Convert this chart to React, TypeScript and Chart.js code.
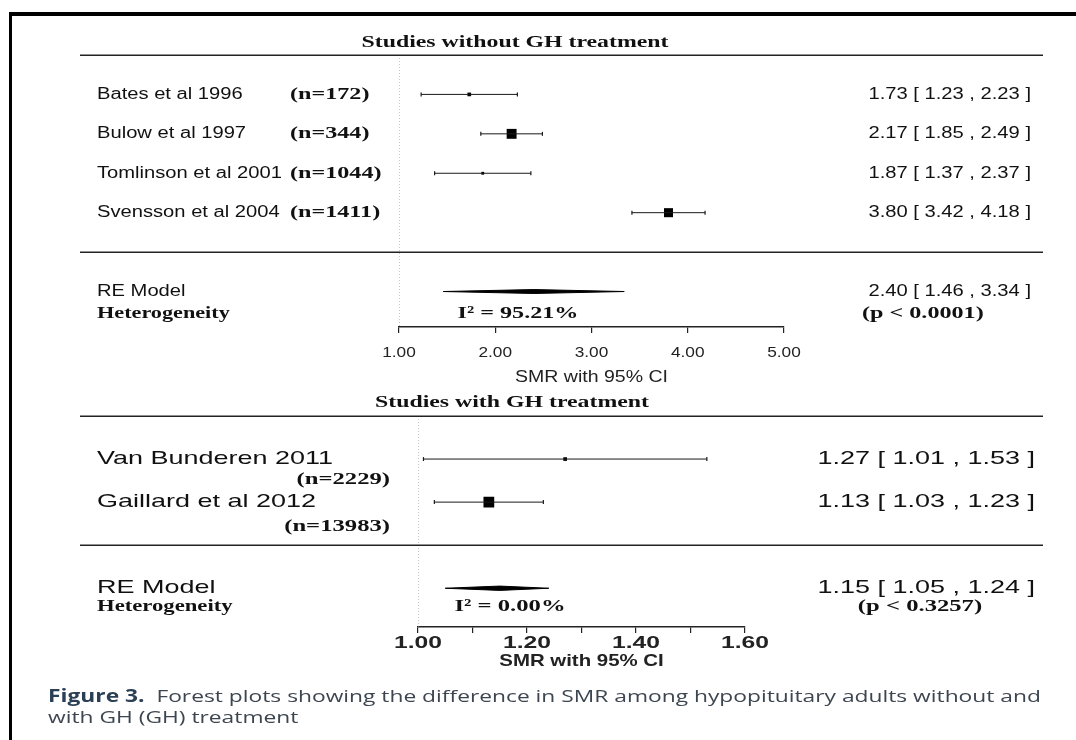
import React, { useEffect, useRef } from 'react';
import { Chart, registerables } from 'chart.js';
Chart.register(...registerables);

// ---------- data: studies without GH treatment ----------
const titleTop = 'Studies without GH treatment';
const studiesTop = ['Bates et al 1996', 'Bulow et al 1997', 'Tomlinson et al 2001', 'Svensson et al 2004'];
const sizesTop = ['(n=172)', '(n=344)', '(n=1044)', '(n=1411)'];
const smrTop = [1.73, 2.17, 1.87, 3.8];
const lowerTop = [1.23, 1.85, 1.37, 3.42];
const upperTop = [2.23, 2.49, 2.37, 4.18];
const reTop = [2.4, 1.46, 3.34]; // estimate, lower, upper
const i2Top = 'I\u00B2 = 95.21%';
const pTop = '(p < 0.0001)';
const ticksTop = [1, 2, 3, 4, 5];
const tickLabelsTop = ['1.00', '2.00', '3.00', '4.00', '5.00'];

// ---------- data: studies with GH treatment ----------
const titleBottom = 'Studies with GH treatment';
const studiesBottom = ['Van Bunderen 2011', 'Gaillard et al 2012'];
const sizesBottom = ['(n=2229)', '(n=13983)'];
const smrBottom = [1.27, 1.13];
const lowerBottom = [1.01, 1.03];
const upperBottom = [1.53, 1.23];
const reBottom = [1.15, 1.05, 1.24];
const i2Bottom = 'I\u00B2 = 0.00%';
const pBottom = '(p < 0.3257)';
const ticksBottom = [1.0, 1.1, 1.2, 1.3, 1.4, 1.5, 1.6];
const tickLabelsBottom = ['1.00', '', '1.20', '', '1.40', '', '1.60'];

const reLabel = 'RE Model';
const hetLabel = 'Heterogeneity';
const axisTitle = 'SMR with 95% CI';
const captionLabel = 'Figure 3.';
const captionLine1 = 'Forest plots showing the difference in SMR among hypopituitary adults without and';
const captionLine2 = 'with GH (GH) treatment';

const fmt = (v: number, lo: number, hi: number) =>
  `${v.toFixed(2)} [ ${lo.toFixed(2)} , ${hi.toFixed(2)} ]`;

function drawText(ctx: CanvasRenderingContext2D, s: string, x: number, y: number, font: string,
  align: 'left' | 'right' | 'center', sx: number, color = '#111') {
  if (!s) return;
  ctx.save();
  ctx.font = font;
  ctx.fillStyle = color;
  ctx.textBaseline = 'middle';
  ctx.textAlign = 'left';
  const w = ctx.measureText(s).width * sx;
  const left = align === 'left' ? x : align === 'right' ? x - w : x - w / 2;
  ctx.translate(left, y);
  ctx.scale(sx, 1);
  ctx.fillText(s, 0, 0);
  ctx.restore();
}

const dataTop = {
  title: titleTop, studies: studiesTop, sizes: sizesTop, smr: smrTop, lower: lowerTop, upper: upperTop,
  re: reTop, i2: i2Top, p: pTop, ticks: ticksTop, tickLabels: tickLabelsTop,
};
const dataBottom = {
  title: titleBottom, studies: studiesBottom, sizes: sizesBottom, smr: smrBottom, lower: lowerBottom, upper: upperBottom,
  re: reBottom, i2: i2Bottom, p: pBottom, ticks: ticksBottom, tickLabels: tickLabelsBottom,
};

const styleTop = {
  pad: { left: 399, right: 292, top: 55, bottom: 363 }, axisH: 50, yMax: 6.9,
  titleY: 43, titleX: 515, ruleRows: [0, 5], reRow: 6, hetRow: 6.55, diamondHalf: 0.05,
  markerRadius: [2.6, 7, 2, 6.4],
  labelX: 97, sans: '16px "Liberation Sans"', sansSx: 1.26,
  nX: 290, nAlign: 'left' as const, nOffset: [0, 0, 0, 0],
  serif: 'bold 17px "Liberation Serif"', serifSx: 1.42,
  estX: 1031, i2X: 518, pX: 862, pAlign: 'left' as const,
  tickFont: '15px "Liberation Sans"', tickSx: 1.15, tickDy: 26,
  axisFont: '16px "Liberation Sans"', axisSx: 1.22, axisDy: 51,
};
const styleBottom = {
  pad: { left: 418, right: 331, top: 416, bottom: 73 }, axisH: 40, yMax: 4.9,
  titleY: 403, titleX: 512, ruleRows: [0, 3], reRow: 4, hetRow: 4.42, diamondHalf: 0.05,
  markerRadius: [2.6, 7.6],
  labelX: 97, sans: '19px "Liberation Sans"', sansSx: 1.42,
  nX: 390, nAlign: 'right' as const, nOffset: [0.47, 0.56],
  serif: 'bold 17px "Liberation Serif"', serifSx: 1.45,
  estX: 1035, i2X: 510, pX: 920, pAlign: 'center' as const,
  tickFont: 'bold 17px "Liberation Sans"', tickSx: 1.45, tickDy: 16,
  axisFont: 'bold 17px "Liberation Sans"', axisSx: 1.2, axisDy: 34,
};

function makeForest(canvas: HTMLCanvasElement, d: any, st: any) {
  const rows = d.studies.map((_: string, i: number) => i + 1);
  const datasets: any[] = [];
  datasets.push({
    label: 'reference', data: [{ x: d.ticks[0], y: 0 }, { x: d.ticks[0], y: st.yMax }],
    showLine: true, borderColor: '#8c8c8c', borderWidth: 1, borderDash: [1, 2], pointRadius: 0,
  });
  d.studies.forEach((s: string, i: number) => {
    datasets.push({
      label: s, data: [{ x: d.lower[i], y: rows[i] }, { x: d.upper[i], y: rows[i] }],
      showLine: true, borderColor: '#1a1a1a', borderWidth: 1,
      pointStyle: 'line', rotation: 90, pointRadius: 2, pointBorderWidth: 1.2, pointBorderColor: '#1a1a1a',
    });
  });
  datasets.push({
    label: 'SMR', data: rows.map((r: number, i: number) => ({ x: d.smr[i], y: r })),
    pointStyle: 'rect', pointRadius: st.markerRadius, backgroundColor: '#000', borderColor: '#000', pointBorderWidth: 0,
  });
  const [est, lo, hi] = d.re;
  const r = st.reRow, h = st.diamondHalf;
  datasets.push({
    label: 'RE Model',
    data: [{ x: lo, y: r }, { x: est, y: r - h }, { x: hi, y: r }, { x: est, y: r + h }, { x: lo, y: r }],
    showLine: true, fill: 'shape', backgroundColor: '#000', borderColor: '#000', borderWidth: 1, pointRadius: 0,
  });

  const textPlugin = {
    id: 'forestText',
    afterDraw(chart: any) {
      const ctx = chart.ctx as CanvasRenderingContext2D;
      const ys = chart.scales.y, xs = chart.scales.x;
      const ca = chart.chartArea;
      drawText(ctx, d.title, st.titleX, st.titleY, st.serif, 'center', 1.4);
      ctx.save();
      ctx.strokeStyle = '#222';
      ctx.lineWidth = 1.5;
      st.ruleRows.forEach((rr: number) => {
        const yy = Math.round(ys.getPixelForValue(rr)) + 0.25;
        ctx.beginPath(); ctx.moveTo(80, yy); ctx.lineTo(1043, yy); ctx.stroke();
      });
      ctx.restore();
      d.studies.forEach((s: string, i: number) => {
        const yy = ys.getPixelForValue(rows[i]);
        drawText(ctx, s, st.labelX, yy, st.sans, 'left', st.sansSx);
        drawText(ctx, d.sizes[i], st.nX, ys.getPixelForValue(rows[i] + st.nOffset[i]), st.serif, st.nAlign, st.serifSx);
        drawText(ctx, fmt(d.smr[i], d.lower[i], d.upper[i]), st.estX, yy, st.sans, 'right', st.sansSx);
      });
      const yRe = ys.getPixelForValue(st.reRow);
      const yHet = ys.getPixelForValue(st.hetRow);
      drawText(ctx, reLabel, st.labelX, yRe, st.sans, 'left', st.sansSx);
      drawText(ctx, hetLabel, st.labelX, yHet, st.serif, 'left', st.serifSx * 0.92);
      drawText(ctx, d.i2, st.i2X, yHet, st.serif, 'center', st.serifSx);
      drawText(ctx, fmt(est, lo, hi), st.estX, yRe, st.sans, 'right', st.sansSx);
      drawText(ctx, d.p, st.pX, yHet, st.serif, st.pAlign, st.serifSx);
      xs.ticks.forEach((t: any, i: number) => {
        drawText(ctx, d.tickLabels[i], xs.getPixelForValue(t.value), ca.bottom + st.tickDy, st.tickFont, 'center', st.tickSx, '#222');
      });
      drawText(ctx, axisTitle, (xs.left + xs.right) / 2, ca.bottom + st.axisDy, st.axisFont, 'center', st.axisSx, '#222');
    },
  };

  return new Chart(canvas, {
    type: 'scatter',
    data: { datasets },
    options: {
      animation: false,
      responsive: false,
      devicePixelRatio: 1,
      events: [],
      layout: { padding: st.pad },
      plugins: { legend: { display: false }, tooltip: { enabled: false } },
      scales: {
        x: {
          type: 'linear', min: d.ticks[0], max: d.ticks[d.ticks.length - 1],
          afterBuildTicks: (s: any) => { s.ticks = d.ticks.map((v: number) => ({ value: v })); },
          afterFit: (s: any) => { s.height = st.axisH; },
          ticks: { display: false, autoSkip: false },
          grid: { drawOnChartArea: false, drawTicks: true, tickLength: 6, color: '#222', lineWidth: 1.2 },
          border: { display: true, color: '#222', width: 1.5 },
        },
        y: { type: 'linear', display: false, min: 0, max: st.yMax, reverse: true },
      },
    } as any,
    plugins: [textPlugin],
  });
}

export default function App() {
  const ref1 = useRef<HTMLCanvasElement>(null);
  const ref2 = useRef<HTMLCanvasElement>(null);
  useEffect(() => {
    const c1 = makeForest(ref1.current!, dataTop, styleTop);
    const c2 = makeForest(ref2.current!, dataBottom, styleBottom);
    return () => { c1.destroy(); c2.destroy(); };
  }, []);
  return (
    <div style={{ position: 'absolute', left: 0, top: 0, width: 1076, height: 740, background: '#fff', overflow: 'hidden' }}>
      <div style={{ position: 'absolute', left: 9, top: 12, width: 1067, height: 728, borderTop: '4px solid #000', borderLeft: '3px solid #000', boxSizing: 'border-box' }} />
      <canvas ref={ref1} width={1076} height={740} style={{ position: 'absolute', left: 0, top: 0 }} />
      <canvas ref={ref2} width={1076} height={740} style={{ position: 'absolute', left: 0, top: 0 }} />
      <div style={{ position: 'absolute', left: 48, top: 685, font: '17px "Open Sans"', color: '#3d4650', lineHeight: '21px', transform: 'scaleX(1.34)', transformOrigin: '0 0', whiteSpace: 'nowrap' }}>
        <span style={{ fontWeight: 700, color: '#2b3f55' }}>{captionLabel}</span>{'\u00A0 '}{captionLine1}<br />{captionLine2}
      </div>
    </div>
  );
}
